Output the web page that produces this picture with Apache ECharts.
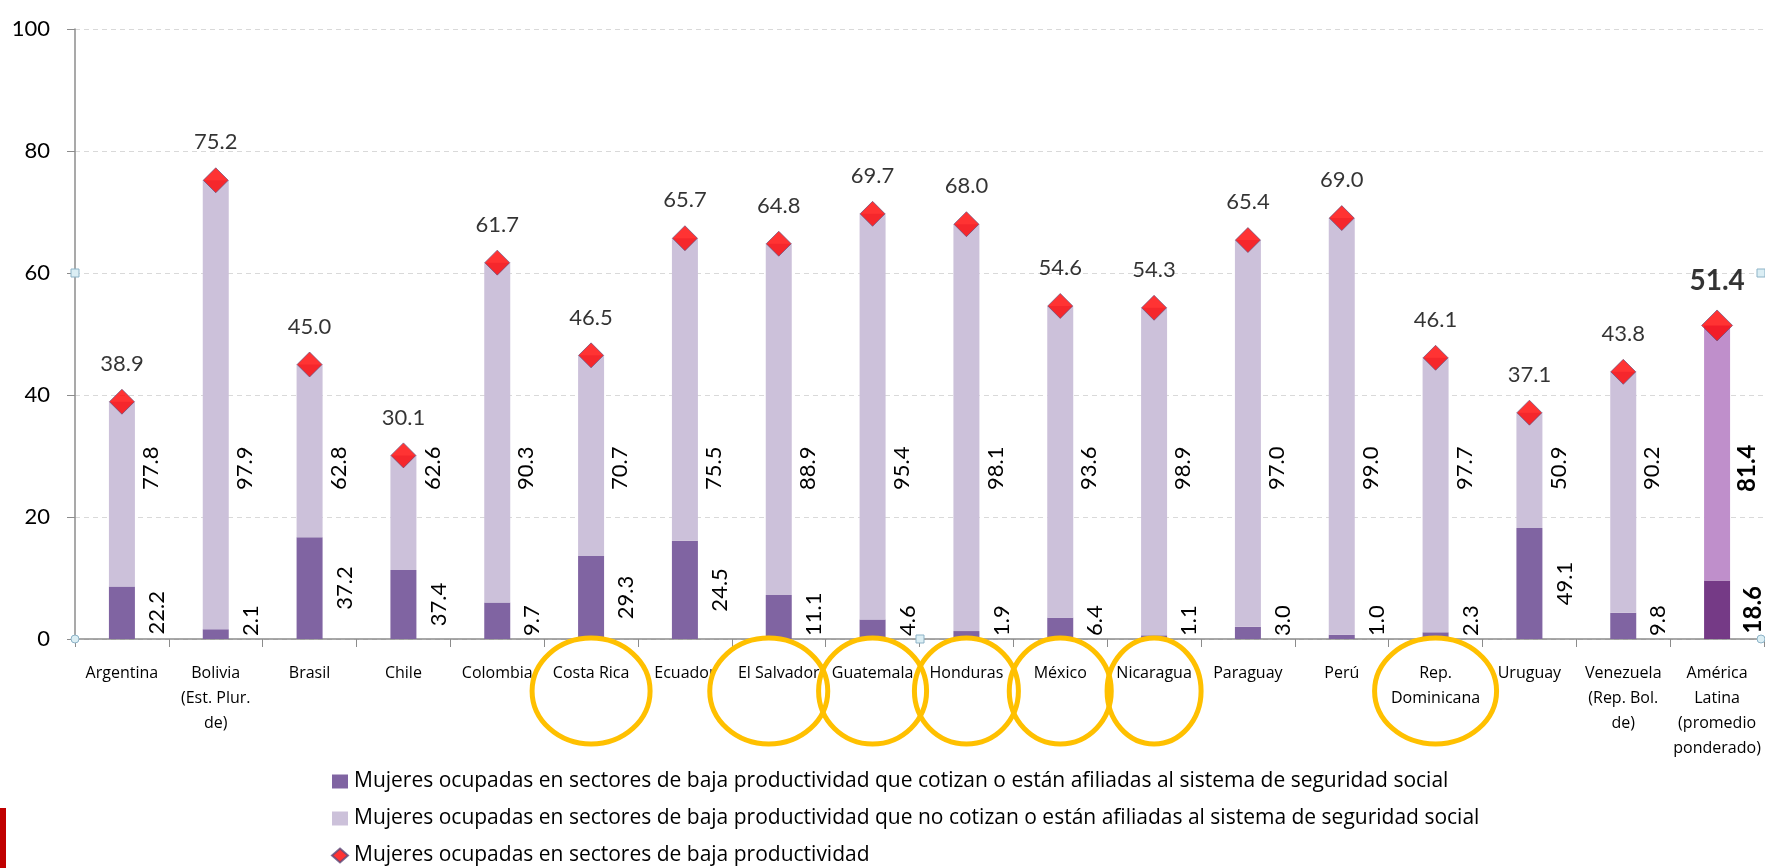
<!DOCTYPE html>
<html>
<head>
<meta charset="utf-8">
<script src="https://cdn.jsdelivr.net/npm/echarts@6/dist/echarts.min.js"></script>
<style>
  html, body { margin: 0; padding: 0; background: #fff; }
  #chart { width: 1765px; height: 868px; }
</style>
</head>
<body>
<div id="chart"></div>
<script>
// categories (x axis)
const categories = [
    'Argentina', 'Bolivia\n(Est. Plur.\nde)', 'Brasil', 'Chile', 'Colombia', 'Costa Rica',
    'Ecuador', 'El Salvador', 'Guatemala', 'Honduras', 'México', 'Nicaragua',
    'Paraguay', 'Perú', 'Rep.\nDominicana', 'Uruguay', 'Venezuela\n(Rep. Bol.\nde)',
    'América\nLatina\n(promedio\nponderado)'
];

// % of employed women in low productivity sectors
const totals = [38.9, 75.2, 45.0, 30.1, 61.7, 46.5, 65.7, 64.8, 69.7, 68.0, 54.6, 54.3, 65.4, 69.0, 46.1, 37.1, 43.8, 51.4];

// stacked heights
const paidHeight = [8.6, 1.6, 16.7, 11.3, 6.0, 13.6, 16.1, 7.2, 3.2, 1.3, 3.5, 0.6, 2.0, 0.7, 1.1, 18.2, 4.3, 9.6];
const unpaidHeight = [30.3, 73.6, 28.3, 18.8, 55.7, 32.9, 49.6, 57.6, 66.5, 66.7, 51.1, 53.7, 63.4, 68.3, 45.0, 18.9, 39.5, 41.8];

// labels shown next to the segments (share of the bar)
const sharePaid = [22.2, 2.1, 37.2, 37.4, 9.7, 29.3, 24.5, 11.1, 4.6, 1.9, 6.4, 1.1, 3.0, 1.0, 2.3, 49.1, 9.8, 18.6];
const shareUnpaid = [77.8, 97.9, 62.8, 62.6, 90.3, 70.7, 75.5, 88.9, 95.4, 98.1, 93.6, 98.9, 97.0, 99.0, 97.7, 50.9, 90.2, 81.4];

const yTicks = [0, 20, 40, 60, 80, 100];

// countries circled in the original slide
const circled = ['Costa Rica', 'El Salvador', 'Guatemala', 'Honduras', 'México', 'Nicaragua', 'Rep.\nDominicana'];

const seriesNames = [
    'Mujeres ocupadas en sectores de baja productividad que cotizan o están afiliadas al sistema de seguridad social',
    'Mujeres ocupadas en sectores de baja productividad que no cotizan o están afiliadas al sistema de seguridad social',
    'Mujeres ocupadas en sectores de baja productividad'
];

const FONT = 'Lato, "Open Sans", sans-serif';
const WIDE_FONT = '"Open Sans", Lato, sans-serif';
const last = categories.length - 1;
const chart = echarts.init(document.getElementById('chart'));

const rotatedLabel = {
    show: true,
    position: 'right',
    rotate: 90,
    align: 'center',
    verticalAlign: 'top',
    fontSize: 22,
    fontFamily: FONT,
    color: '#000'
};

function styled(values, lastColor) {
    return values.map((v, i) => {
        if (i !== last) return v;
        return {
            value: v,
            itemStyle: { color: lastColor },
            label: { fontWeight: 'bold', fontSize: 24 }
        };
    });
}

const option = {
    animation: false,
    backgroundColor: '#fff',
    textStyle: { fontFamily: FONT },
    grid: { left: 75, right: 1, top: 29, bottom: 229, containLabel: false },
    legend: {
        orient: 'vertical',
        left: 331,
        top: 771,
        padding: 0,
        height: 97,
        itemWidth: 16,
        itemHeight: 14,
        itemGap: 16,
        textStyle: { fontSize: 21, fontFamily: WIDE_FONT, color: '#000', padding: [0, 0, 0, 1] },
        data: [
            { name: seriesNames[0], icon: 'rect' },
            { name: seriesNames[1], icon: 'rect' },
            { name: seriesNames[2], icon: 'diamond' }
        ]
    },
    xAxis: {
        type: 'category',
        data: categories,
        axisLine: { lineStyle: { color: '#8c8c8c', width: 1.5 } },
        axisTick: { show: true, length: 8, lineStyle: { color: '#8c8c8c' } },
        axisLabel: {
            interval: 0,
            fontSize: 16,
            lineHeight: 25,
            margin: 22,
            color: '#000',
            fontFamily: WIDE_FONT
        }
    },
    yAxis: {
        type: 'value',
        min: 0,
        max: 100,
        interval: 20,
        axisLine: { show: true, lineStyle: { color: '#8c8c8c', width: 1.5 } },
        axisTick: { show: true, length: 8, lineStyle: { color: '#8c8c8c' } },
        axisLabel: {
            fontSize: 22,
            margin: 25,
            color: '#000',
            fontFamily: FONT,
            formatter: v => yTicks.indexOf(v) >= 0 ? String(v) : ''
        },
        splitLine: { show: true, lineStyle: { color: '#d9d9d9', type: [5, 4], width: 1 } }
    },
    series: [
        {
            name: seriesNames[0],
            type: 'bar',
            stack: 'low',
            barWidth: 26,
            itemStyle: { color: '#8064a2' },
            data: styled(paidHeight, '#753a86'),
            label: Object.assign({}, rotatedLabel, {
                distance: 11,
                formatter: p => sharePaid[p.dataIndex].toFixed(1)
            }),
            // centred on the segment, but never below the axis
            labelLayout: function (p) {
                const axisY = p.rect.y + p.rect.height;
                const h = p.labelRect.height;
                const cy = p.labelRect.y + h / 2;
                return { y: Math.min(cy, axisY - h / 2 - 3) };
            }
        },
        {
            name: seriesNames[1],
            type: 'bar',
            stack: 'low',
            barWidth: 26,
            itemStyle: { color: '#ccc1da' },
            data: styled(unpaidHeight, '#bf8fcb'),
            label: Object.assign({}, rotatedLabel, {
                distance: 5,
                formatter: p => shareUnpaid[p.dataIndex].toFixed(1)
            }),
            labelLayout: function () {
                return { y: chart.convertToPixel({ yAxisIndex: 0 }, 28) };
            }
        },
        {
            name: seriesNames[2],
            type: 'scatter',
            symbol: 'diamond',
            symbolSize: 25,
            z: 5,
            itemStyle: { color: '#ff0000', borderColor: '#5b4a7a', borderWidth: 0.8 },
            label: {
                show: true,
                position: 'top',
                distance: 14,
                fontSize: 22,
                fontFamily: FONT,
                color: '#000',
                formatter: p => totals[p.dataIndex].toFixed(1)
            },
            data: totals.map((v, i) => i !== last ? v : {
                value: v,
                symbolSize: 31,
                label: { fontSize: 28, fontWeight: 'bold', distance: 15 }
            })
        }
    ]
};

chart.setOption(option);

// annotations: orange rings round some country labels, selection handles, logo edge
const ringRx = { 'Costa Rica': 59, 'El Salvador': 59, 'Guatemala': 54, 'Honduras': 52, 'México': 51, 'Nicaragua': 47, 'Rep.\nDominicana': 61 };
const ringShift = { 'El Salvador': -10 };
const axisY = chart.convertToPixel({ yAxisIndex: 0 }, 0);
const graphics = circled.map(name => ({
    type: 'ellipse',
    z: 20,
    shape: {
        cx: chart.convertToPixel({ xAxisIndex: 0 }, name) + (ringShift[name] || 0),
        cy: axisY + 52,
        rx: ringRx[name],
        ry: 53
    },
    style: { fill: 'none', stroke: '#ffc000', lineWidth: 5 }
}));

const handleStyle = { fill: '#dbeef4', stroke: '#8db3c7', lineWidth: 1 };
const y60 = chart.convertToPixel({ yAxisIndex: 0 }, 60);
[[75, y60], [920, axisY], [1761, y60]].forEach(p => {
    graphics.push({ type: 'rect', z: 30, shape: { x: p[0] - 4, y: p[1] - 4, width: 8, height: 8 }, style: handleStyle });
});
[[75, axisY], [1761, axisY]].forEach(p => {
    graphics.push({ type: 'circle', z: 30, shape: { cx: p[0], cy: p[1], r: 4 }, style: handleStyle });
});
graphics.push({ type: 'rect', z: 30, shape: { x: 0, y: 808, width: 6, height: 60 }, style: { fill: '#c00000' } });

chart.setOption({ graphic: graphics });
</script>
</body>
</html>
